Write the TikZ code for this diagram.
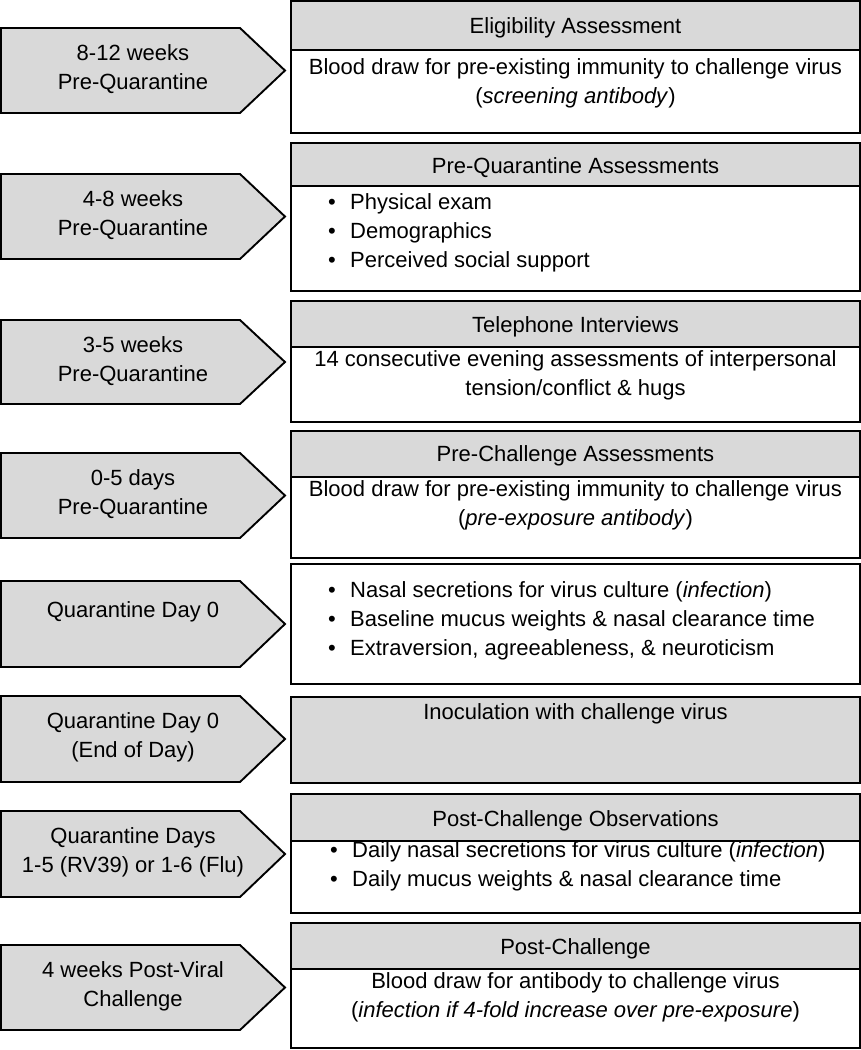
\documentclass[tikz,border=0pt]{standalone}
\usepackage{fontspec}
\setmainfont{Liberation Sans}
\definecolor{shade}{RGB}{217,217,217}
\newcommand{\tagarrow}[2]{%
  \draw[arrowsty] (1,#1) -- (240,#1) -- (285,{(#1+#2)/2}) -- (240,#2) -- (1,#2) -- cycle;}
\newcommand{\stepframe}[3]{% top, header bottom, bottom
  \draw[boxsty] (291,#1) rectangle (860,#3);
  \draw[boxsty,fill=shade] (291,#1) rectangle (860,#2);}
\newcommand{\bl}{\makebox[22pt][l]{•}}
\begin{document}
\begin{tikzpicture}[x=1pt,y=-1pt,
  arrowsty/.style={draw=black,line width=1.9pt,fill=shade,line join=miter},
  boxsty/.style={draw=black,line width=1.9pt,fill=white},
  txt/.style={font=\fontsize{22}{29}\selectfont,inner sep=0pt},
  lbl/.style={txt,align=center,anchor=north,execute at begin node=\strut},
  lst/.style={txt,align=left,anchor=north west,execute at begin node=\strut},
  hdr/.style={txt,anchor=base}]
\useasboundingbox (0,0) rectangle (861,1050);

% ---------- arrows (time points) ----------
\tagarrow{28}{113}
\node[lbl] (t1) at (133,44.5) {8-12 weeks\\Pre-Quarantine};
\tagarrow{174}{259}
\node[lbl] (t2) at (133,190.5) {4-8 weeks\\Pre-Quarantine};
\tagarrow{320}{404}
\node[lbl] (t3) at (133,336.5) {3-5 weeks\\Pre-Quarantine};
\tagarrow{453}{538}
\node[lbl] (t4) at (133,469.5) {0-5 days\\Pre-Quarantine};
\tagarrow{581}{667}
\node[lbl] (t5) at (133,596.5) {Quarantine Day 0};
\tagarrow{696}{782}
\node[lbl] (t6) at (133,712.5) {Quarantine Day 0\\(End of Day)};
\tagarrow{811}{897}
\node[lbl] (t7) at (133,827.5) {Quarantine Days\\1-5 (RV39) or 1-6 (Flu)};
\tagarrow{945}{1030}
\node[lbl] (t8) at (133,961.5) {4 weeks Post-Viral\\Challenge};

% ---------- boxes ----------
\stepframe{1}{50}{133}
\node[hdr] (h1) at (575.5,33) {Eligibility Assessment};
\node[lbl] (b1) at (575.5,58.2) {Blood draw for pre-existing immunity to challenge virus\\(\textit{screening antibody})};

\stepframe{143}{186}{291}
\node[hdr] (h2) at (575.5,173) {Pre-Quarantine Assessments};
\node[lst] (b2) at (328,193.2) {\bl Physical exam\\\bl Demographics\\\bl Perceived social support};

\stepframe{301}{347}{422}
\node[hdr] (h3) at (575.5,332) {Telephone Interviews};
\node[lbl] (b3) at (575.5,350.2) {14 consecutive evening assessments of interpersonal\\tension/conflict \& hugs};

\stepframe{431}{477}{558}
\node[hdr] (h4) at (575.5,461) {Pre-Challenge Assessments};
\node[lbl] (b4) at (575.5,480.2) {Blood draw for pre-existing immunity to challenge virus\\(\textit{pre-exposure antibody})};

\draw[boxsty] (291,564) rectangle (860,684);
\node[lst] (b5) at (328,581.7) {\bl Nasal secretions for virus culture (\textit{infection})\\\bl Baseline mucus weights \& nasal clearance time\\\bl Extraversion, agreeableness, \& neuroticism};

\draw[boxsty,fill=shade] (291,697) rectangle (860,783);
\node[hdr] (h6) at (575.5,719) {Inoculation with challenge virus};

\stepframe{794}{841}{913}
\node[hdr] (h7) at (575.5,826) {Post-Challenge Observations};
\node[lst] (b7) at (330,841.2) {\bl Daily nasal secretions for virus culture (\textit{infection})\\\bl Daily mucus weights \& nasal clearance time};

\stepframe{923}{969}{1048}
\node[hdr] (h8) at (575.5,954) {Post-Challenge};
\node[lbl] (b8) at (575.5,972) {Blood draw for antibody to challenge virus\\(\textit{infection if 4-fold increase over pre-exposure})};
\end{tikzpicture}
\end{document}
